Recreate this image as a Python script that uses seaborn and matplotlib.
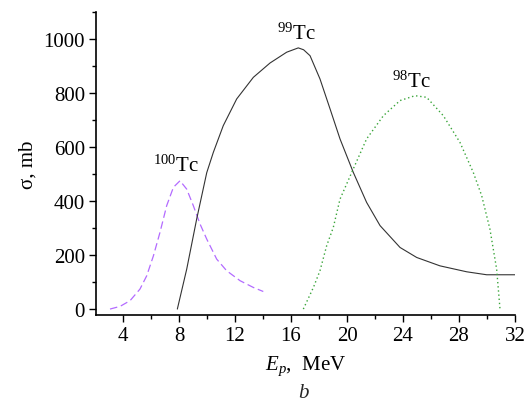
import matplotlib
matplotlib.use("Agg")
import matplotlib.pyplot as plt
import seaborn as sns
import pandas as pd
from matplotlib.ticker import MultipleLocator

# Data
e_100 = [3.07, 3.79, 4.5, 5.21, 5.69, 6.17, 6.64, 7.12, 7.6, 8.07, 8.55, 9.02, 9.5,
         9.98, 10.69, 11.4, 12.36, 13.31, 14.02]
s_100 = [0, 10, 31, 74, 123, 197, 284, 383, 451, 475, 444, 383, 315,
         259, 185, 142, 105, 80, 65]

e_99 = [7.88, 8.55, 9.26, 9.98, 10.45, 11.16, 12.12, 13.31, 14.5, 15.69, 16.52, 16.9,
        17.36, 18.07, 18.79, 19.5, 20.45, 21.4, 22.36, 23.79, 24.98, 26.64, 28.55,
        29.98, 32.0]
s_99 = [0, 148, 333, 505, 580, 679, 778, 858, 911, 951, 967, 960,
        938, 852, 741, 630, 506, 395, 309, 228, 191, 160, 138,
        127, 127]

e_98 = [16.88, 17.6, 18.07, 18.55, 19.02, 19.5, 20.45, 21.4, 22.6, 23.79, 24.86, 25.69,
        26.88, 28.07, 29.02, 29.62, 30.21, 30.69, 30.93]
s_98 = [0, 80, 142, 235, 302, 407, 519, 630, 716, 772, 790, 784,
        716, 617, 506, 420, 296, 148, 0]

labels = [r"$^{100}$Tc", r"$^{99}$Tc", r"$^{98}$Tc"]
label_pos = [(7.75, 511), (16.4, 1000), (24.6, 822)]

x_ticks = [4, 8, 12, 16, 20, 24, 28, 32]
y_ticks = [0, 200, 400, 600, 800, 1000]

sns.set_theme(style="ticks")
plt.rcParams['font.family'] = ['Liberation Serif', 'DejaVu Serif']
plt.rcParams['mathtext.fontset'] = 'custom'
plt.rcParams['mathtext.rm'] = 'Liberation Serif'
plt.rcParams['mathtext.it'] = 'Liberation Serif:italic'

fig = plt.figure(figsize=(5.29, 4.14), dpi=100)
ax = fig.add_axes([0.1815, 0.2367, 0.792, 0.732])

d100 = pd.DataFrame({"E": e_100, "s": s_100})
d99 = pd.DataFrame({"E": e_99, "s": s_99})
d98 = pd.DataFrame({"E": e_98, "s": s_98})

sns.lineplot(data=d100, x="E", y="s", ax=ax, color="#b36bff", lw=0.9,
             linestyle=(0, (6, 3)), sort=False)
sns.lineplot(data=d99, x="E", y="s", ax=ax, color="#333333", lw=0.8, sort=False)
sns.lineplot(data=d98, x="E", y="s", ax=ax, color="#3aa53a", lw=1.0,
             linestyle=(0, (1, 2)), sort=False)

for lab, (x, y) in zip(labels, label_pos):
    ax.text(x, y, lab, fontsize=15, ha="center", va="baseline", color="black")

ax.set_xlim(2.07, 32)
ax.set_ylim(-22, 1100)
ax.set_xticks(x_ticks)
ax.set_yticks(y_ticks)
ax.xaxis.set_minor_locator(MultipleLocator(2))
ax.yaxis.set_minor_locator(MultipleLocator(100))
ax.tick_params(axis="both", which="major", labelsize=15, length=5, width=1,
               color="black", labelcolor="black", pad=3)
ax.tick_params(axis="both", which="minor", length=3, width=1, color="black")
for sp in ["top", "right"]:
    ax.spines[sp].set_visible(False)
for sp in ["left", "bottom"]:
    ax.spines[sp].set_color("black")
    ax.spines[sp].set_linewidth(1.2)

ax.set_xlabel(r"$E_p$,  MeV", fontsize=15, color="black", labelpad=6)
ax.set_ylabel("σ, mb", fontsize=15, color="black", labelpad=4)
fig.text(0.573, 0.05, "b", fontsize=15, style="italic", ha="center", va="center")

fig.savefig("out.png", dpi=100)
